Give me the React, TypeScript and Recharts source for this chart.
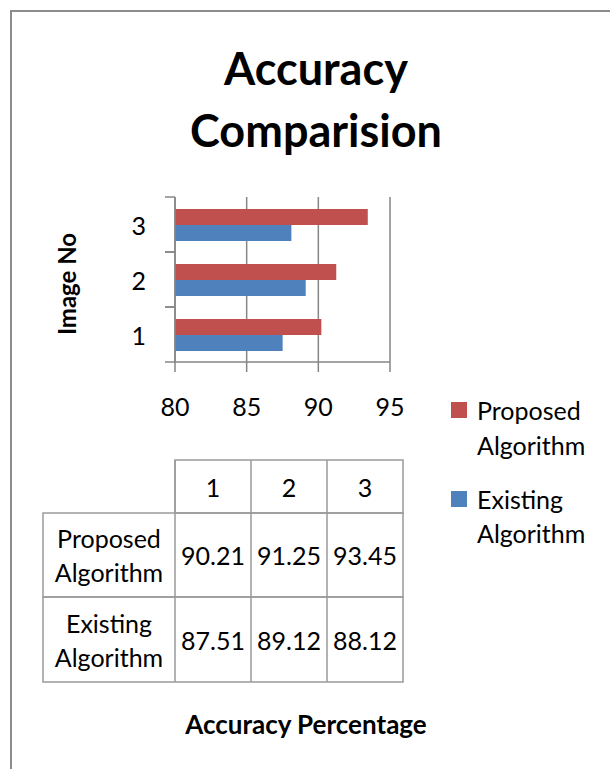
import React from "react";
import { BarChart, Bar, XAxis, YAxis, CartesianGrid } from "recharts";

const images = ["1", "2", "3"];
const proposed = [90.21, 91.25, 93.45];
const existing = [87.51, 89.12, 88.12];
const xTicks = [80, 85, 90, 95];
const rowLabels = [["Proposed", "Algorithm"], ["Existing", "Algorithm"]];

const RED = "#C0504D";
const BLUE = "#4F81BD";
const GRID = "#868686";
const TABLE = "#9a9a9a";
const FONT = "Lato, 'Noto Sans', sans-serif";

const data = images.map((name, i) => ({ name, proposed: proposed[i], existing: existing[i] }));

// table layout (columns line up with the chart's category headers)
const colX = [43, 175, 251, 327, 403];
const rowY = [460, 513, 597, 682];

const TICK_SIZE = 10;
const TICK_MARGIN = 19;

// category tick: label at band centre, tick marks at the band edges (Excel style)
const CategoryTick = (props: any) => {
  const { x, y, payload } = props;
  const half = payload && payload.offset ? payload.offset : 27.5;
  const axisX = x + TICK_MARGIN + TICK_SIZE;
  return (
    <g>
      <line x1={axisX - TICK_SIZE} x2={axisX} y1={y - half} y2={y - half} stroke={GRID} strokeWidth={1.5} />
      <line x1={axisX - TICK_SIZE} x2={axisX} y1={y + half} y2={y + half} stroke={GRID} strokeWidth={1.5} />
      <text x={x} y={y} textAnchor="end" dominantBaseline="central" fill="#000" fontSize={25} fontFamily={FONT}>
        {payload.value}
      </text>
    </g>
  );
};

const DataTable = () => {
  const rows = [proposed, existing];
  return (
    <g fontFamily={FONT} fontSize={25} fill="#000">
      <rect x={colX[1]} y={rowY[0]} width={colX[4] - colX[1]} height={rowY[1] - rowY[0]} fill="none" stroke={TABLE} strokeWidth={1.5} />
      {images.map((img, i) => (
        <text key={img} x={(colX[i + 1] + colX[i + 2]) / 2} y={(rowY[0] + rowY[1]) / 2} textAnchor="middle" dominantBaseline="central">
          {img}
        </text>
      ))}
      {rows.map((vals, r) => {
        const y0 = rowY[r + 1];
        const y1 = rowY[r + 2];
        const cy = (y0 + y1) / 2;
        return (
          <g key={r}>
            <rect x={colX[0]} y={y0} width={colX[4] - colX[0]} height={y1 - y0} fill="none" stroke={TABLE} strokeWidth={1.5} />
            <text x={(colX[0] + colX[1]) / 2} y={cy - 17} textAnchor="middle" dominantBaseline="central">{rowLabels[r][0]}</text>
            <text x={(colX[0] + colX[1]) / 2} y={cy + 17} textAnchor="middle" dominantBaseline="central">{rowLabels[r][1]}</text>
            {vals.map((v, i) => (
              <text key={i} x={(colX[i + 1] + colX[i + 2]) / 2} y={cy} textAnchor="middle" dominantBaseline="central">
                {v.toFixed(2)}
              </text>
            ))}
          </g>
        );
      })}
      {colX.slice(1, 4).map((x) => (
        <line key={x} x1={x} x2={x} y1={rowY[0]} y2={rowY[3]} stroke={TABLE} strokeWidth={1.5} />
      ))}
    </g>
  );
};

const Overlay = () => (
  <svg width={610} height={769} style={{ position: "absolute", left: 0, top: 0, pointerEvents: "none" }}>
    <g fontFamily={FONT} fontWeight="bold" fill="#000">
      <text x={316} y={68} fontSize={45} textAnchor="middle" dominantBaseline="central">Accuracy</text>
      <text x={316} y={130} fontSize={45} textAnchor="middle" dominantBaseline="central">Comparision</text>
      <text transform="translate(66,284) rotate(-90)" fontSize={24} textAnchor="middle" dominantBaseline="central">Image No</text>
      <text x={306} y={724} fontSize={26} textAnchor="middle" dominantBaseline="central">Accuracy Percentage</text>
    </g>
    <g fontFamily={FONT} fontSize={25} fill="#000">
      <rect x={451} y={402} width={16} height={16} fill={RED} />
      <text x={477} y={410} dominantBaseline="central">Proposed</text>
      <text x={477} y={445} dominantBaseline="central">Algorithm</text>
      <rect x={451} y={491} width={16} height={16} fill={BLUE} />
      <text x={477} y={499} dominantBaseline="central">Existing</text>
      <text x={477} y={533} dominantBaseline="central">Algorithm</text>
    </g>
    <DataTable />
  </svg>
);

export default function App() {
  return (
    <div style={{ position: "absolute", left: 0, top: 0, width: 610, height: 769, overflow: "hidden", background: "#fff" }}>
      <div style={{ position: "absolute", left: 10, top: 10, width: 700, height: 800, borderLeft: "2px solid #8c8c8c", borderTop: "2px solid #8c8c8c" }} />
      <div style={{ position: "absolute", left: 0, top: 0 }}>
        <BarChart
          width={610}
          height={769}
          data={data}
          layout="vertical"
          barGap={0}
          margin={{ top: 197, right: 220, bottom: 347, left: 174 }}
        >
          <CartesianGrid horizontal={false} stroke={GRID} strokeWidth={1.5} />
          <XAxis
            type="number"
            domain={[80, 95]}
            ticks={xTicks}
            interval={0}
            allowDataOverflow
            height={60}
            axisLine={{ stroke: GRID, strokeWidth: 1.5 }}
            tickLine={{ stroke: GRID, strokeWidth: 1.5 }}
            tickSize={10}
            tickMargin={26}
            tick={{ fill: "#000", fontSize: 25, fontFamily: FONT }}
          />
          <YAxis
            type="category"
            dataKey="name"
            reversed
            width={1}
            axisLine={{ stroke: GRID, strokeWidth: 1.5 }}
            tickLine={false}
            tickSize={TICK_SIZE}
            tickMargin={TICK_MARGIN}
            tick={<CategoryTick />}
          />
          <Bar dataKey="proposed" fill={RED} barSize={16} isAnimationActive={false} />
          <Bar dataKey="existing" fill={BLUE} barSize={16} isAnimationActive={false} />
        </BarChart>
      </div>
      <Overlay />
    </div>
  );
}
